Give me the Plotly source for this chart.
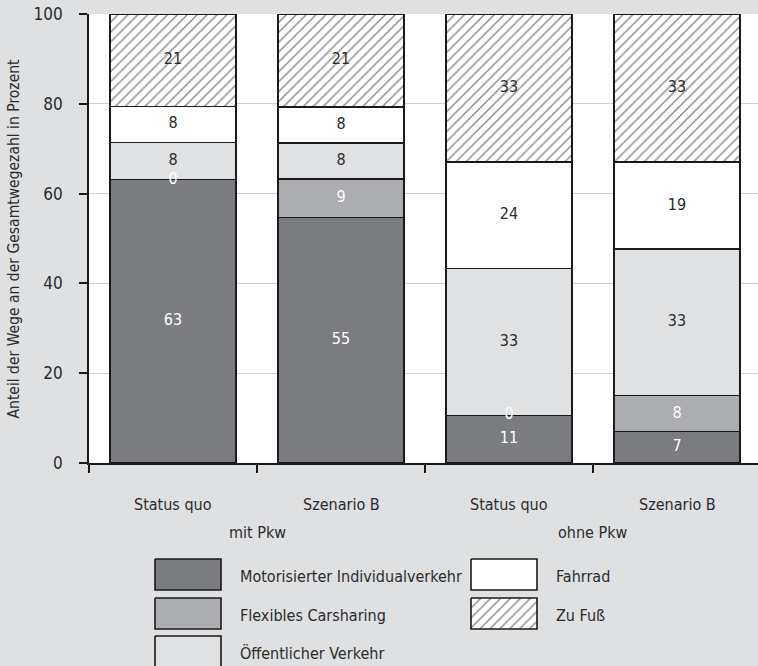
import plotly.graph_objects as go

W, H = 758, 666

# ---- data ----
scenarios = ["Status quo", "Szenario B", "Status quo", "Szenario B"]
groups = ["mit Pkw", "ohne Pkw"]
series_names = ["Motorisierter Individualverkehr", "Flexibles Carsharing",
                "Öffentlicher Verkehr", "Fahrrad", "Zu Fuß"]
miv = [63.1, 54.7, 10.6, 7.0]
carsharing = [0.0, 8.6, 0.0, 8.0]
oev = [8.3, 8.0, 32.7, 32.7]
fahrrad = [8.0, 8.0, 23.7, 19.3]
fuss = [20.6, 20.7, 33.0, 33.0]
y_ticks = [0, 20, 40, 60, 80, 100]
y_title = "Anteil der Wege an der Gesamtwegezahl in Prozent"

# ---- styles ----
FONT = "Liberation Sans Narrow, DejaVu Sans Condensed, Roboto, sans-serif"
TXT = "#2b2b2b"
BG = "#dfe0e2"
fills = ["#7b7c80", "#acadb0", "#e0e1e3", "#ffffff", "#ffffff"]
label_colors = ["white", "white", TXT, TXT, TXT]
hatch = dict(shape="/", fgcolor="#111111", bgcolor="white", size=7, solidity=0.2)

# pixel geometry
PL, PR, PT, PB = 89, 758, 14, 463
cat_w = 168.0
xr = [-0.5, -0.5 + (PR - PL) / cat_w]

def py(y):
    return 1 - y / H

all_series = [miv, carsharing, oev, fahrrad, fuss]
xs = list(range(len(scenarios)))

fig = go.Figure()
for i, (name, vals) in enumerate(zip(series_names, all_series)):
    marker = dict(color=fills[i], line=dict(color="#1a1a1a", width=1.6))
    if i == 4:
        marker["pattern"] = hatch
    fig.add_trace(go.Bar(x=xs, y=vals, name=name, width=0.75, marker=marker,
                         showlegend=False, hoverinfo="skip"))

# value labels
base = [0.0] * len(xs)
for i, vals in enumerate(all_series):
    mids = [b + v / 2 for b, v in zip(base, vals)]
    fig.add_trace(go.Scatter(x=xs, y=mids, mode="text",
                             text=[str(int(v + 0.5)) for v in vals],
                             textfont=dict(family=FONT, size=16, color=label_colors[i]),
                             showlegend=False, hoverinfo="skip"))
    base = [b + v for b, v in zip(base, vals)]

# legend swatches on a pixel overlay axis
rows_top = [559, 598, 636]
sw_h = 31
cols = [(155, 221, 238), (471, 537, 554)]
legend_pos = [(0, 0), (0, 1), (0, 2), (1, 0), (1, 1)]
annotations = []
for i, name in enumerate(series_names):
    c, r = legend_pos[i]
    x0, x1, tx = cols[c]
    y0 = rows_top[r]
    y1 = y0 + sw_h
    kw = dict(fillcolor=fills[i])
    if i == 4:
        kw["fillpattern"] = hatch
    fig.add_trace(go.Scatter(x=[x0, x1, x1, x0, x0], y=[y0, y0, y1, y1, y0],
                             mode="lines", fill="toself",
                             line=dict(color="#1a1a1a", width=1.6),
                             xaxis="x2", yaxis="y2", showlegend=False,
                             hoverinfo="skip", **kw))
    annotations.append(dict(x=tx / W, y=py(y0 + sw_h / 2 + 2), xref="paper", yref="paper",
                            text=name, showarrow=False, xanchor="left", yanchor="middle",
                            font=dict(family=FONT, size=16, color=TXT)))

# category labels
for i, s in enumerate(scenarios):
    annotations.append(dict(x=i, y=py(504), xref="x", yref="paper", text=s,
                            showarrow=False, xanchor="center", yanchor="middle",
                            font=dict(family=FONT, size=16, color=TXT)))
for j, g in enumerate(groups):
    annotations.append(dict(x=2 * j + 0.5, y=py(532), xref="x", yref="paper", text=g,
                            showarrow=False, xanchor="center", yanchor="middle",
                            font=dict(family=FONT, size=16, color=TXT)))
annotations.append(dict(x=13 / W, y=py((PT + PB) / 2), xref="paper", yref="paper",
                        text=y_title, textangle=-90, showarrow=False,
                        xanchor="center", yanchor="middle",
                        font=dict(family=FONT, size=15.5, color=TXT)))

fig.update_layout(
    width=W, height=H, margin=dict(l=0, r=0, t=0, b=0),
    paper_bgcolor=BG, plot_bgcolor="rgba(0,0,0,0)",
    barmode="stack", bargap=0.25,
    xaxis=dict(domain=[PL / W, PR / W], range=xr, tickvals=[-0.5, 0.5, 1.5, 2.5, 3.5],
               ticktext=["", "", "", "", ""], ticks="outside", ticklen=8,
               tickcolor="#1a1a1a", tickwidth=1.6, showline=True, linecolor="#1a1a1a",
               linewidth=1.6, showgrid=False, zeroline=False, fixedrange=True,
               automargin=False),
    yaxis=dict(domain=[py(PB), py(PT)], range=[0, 100], tickvals=y_ticks,
               ticks="outside", ticklen=8, tickcolor="#1a1a1a", tickwidth=1.6,
               showline=True, linecolor="#1a1a1a", linewidth=1.6,
               gridcolor="#cfd0d2", gridwidth=1, zeroline=False,
               tickfont=dict(family=FONT, size=17, color=TXT), ticklabelstandoff=13,
               automargin=False, fixedrange=True),
    xaxis2=dict(domain=[0, 1], range=[0, W], visible=False, anchor="y2", fixedrange=True),
    yaxis2=dict(domain=[0, 1], range=[H, 0], visible=False, anchor="x2", fixedrange=True),
    shapes=[dict(type="rect", xref="paper", yref="paper", x0=PL / W, x1=PR / W,
                 y0=py(PB), y1=py(PT), fillcolor="white", line=dict(width=0),
                 layer="below")],
    annotations=annotations,
)

fig.write_html("out.html")
